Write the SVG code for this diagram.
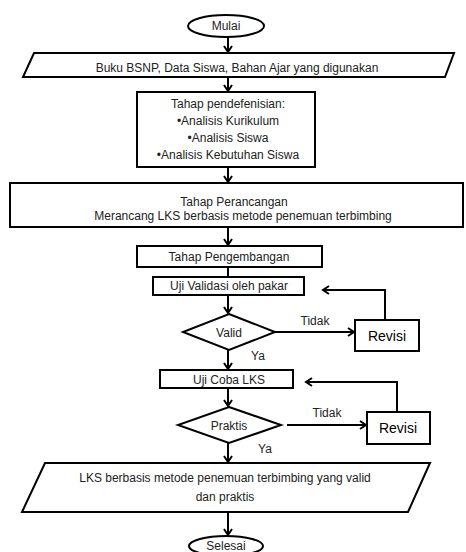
<svg xmlns="http://www.w3.org/2000/svg" width="466" height="552" viewBox="0 0 466 552">
<defs>
<marker id="ah" markerWidth="10" markerHeight="10" refX="8" refY="5" orient="auto" markerUnits="userSpaceOnUse">
<path d="M2,1 L8,5 L2,9" fill="none" stroke="#000" stroke-width="2"/>
</marker>
</defs>
<style>
.s{fill:#fff;stroke:#000;stroke-width:2}
.t{font-family:"Liberation Sans",Arial,sans-serif;font-size:12px;fill:#222;text-anchor:middle}
.r{font-family:"Liberation Sans",Arial,sans-serif;font-size:14px;fill:#000;text-anchor:middle}
.c{fill:none;stroke:#000;stroke-width:2}
</style>
<rect width="466" height="552" fill="#fff"/>
<g id="connectors">
<line class="c" x1="228" y1="37" x2="228" y2="52" marker-end="url(#ah)"/>
<line class="c" x1="228" y1="77" x2="228" y2="91" marker-end="url(#ah)"/>
<line class="c" x1="228" y1="167" x2="228" y2="182" marker-end="url(#ah)"/>
<line class="c" x1="228" y1="227" x2="228" y2="245" marker-end="url(#ah)"/>
<line class="c" x1="228" y1="267" x2="228" y2="277"/>
<line class="c" x1="228" y1="295" x2="228" y2="313" marker-end="url(#ah)"/>
<line class="c" x1="275" y1="332" x2="354" y2="332" marker-end="url(#ah)"/>
<polyline class="c" points="385,320 385,290 323,290" marker-end="url(#ah)"/>
<line class="c" x1="228" y1="350" x2="228" y2="369" marker-end="url(#ah)"/>
<line class="c" x1="228" y1="388" x2="228" y2="406" marker-end="url(#ah)"/>
<line class="c" x1="287" y1="425" x2="366" y2="425" marker-end="url(#ah)"/>
<polyline class="c" points="397,412 397,382 306,382" marker-end="url(#ah)"/>
<line class="c" x1="228" y1="443" x2="228" y2="462" marker-end="url(#ah)"/>
<line class="c" x1="228" y1="512" x2="228" y2="535" marker-end="url(#ah)"/>
<text class="t" x="315" y="325">Tidak</text>
<text class="t" x="258" y="360">Ya</text>
<text class="t" x="327" y="417">Tidak</text>
<text class="t" x="265" y="453">Ya</text>
</g>
<g id="mulai">
<ellipse class="s" cx="226" cy="26" rx="38" ry="11"/>
<text class="t" x="226" y="30">Mulai</text>
</g>
<g id="input">
<polygon class="s" points="34,53 454,53 445,77 23,77"/>
<text class="t" x="237" y="72">Buku BSNP, Data Siswa, Bahan Ajar yang digunakan</text>
</g>
<g id="pendefenisian">
<rect class="s" x="137" y="92" width="178" height="75"/>
<text class="t" x="228" y="108">Tahap pendefenisian:</text>
<text class="t" x="228" y="125">•Analisis Kurikulum</text>
<text class="t" x="228" y="142">•Analisis Siswa</text>
<text class="t" x="228" y="159">•Analisis Kebutuhan Siswa</text>
</g>
<g id="perancangan">
<rect class="s" x="10" y="183" width="453" height="44"/>
<text class="t" x="234" y="206">Tahap Perancangan</text>
<text class="t" x="243" y="220">Merancang LKS berbasis  metode penemuan terbimbing</text>
</g>
<g id="pengembangan">
<rect class="s" x="137" y="246" width="185" height="21"/>
<text class="t" x="229" y="261">Tahap Pengembangan</text>
</g>
<g id="validasi">
<rect class="s" x="153" y="277" width="151" height="18"/>
<text class="t" x="229" y="290">Uji Validasi oleh pakar</text>
</g>
<g id="valid">
<polygon class="s" points="229,314 275,332 229,350 183,332"/>
<text class="t" x="229" y="337">Valid</text>
</g>
<g id="revisi1">
<rect class="s" x="355" y="320" width="64" height="31"/>
<text class="r" x="387" y="341">Revisi</text>
</g>
<g id="ujicoba">
<rect class="s" x="160" y="370" width="133" height="18"/>
<text class="t" x="229" y="384">Uji Coba LKS</text>
</g>
<g id="praktis">
<polygon class="s" points="229,407 281,425 229,443 178,425"/>
<text class="t" x="229" y="430">Praktis</text>
</g>
<g id="revisi2">
<rect class="s" x="367" y="412" width="63" height="32"/>
<text class="r" x="398" y="433">Revisi</text>
</g>
<g id="output">
<polygon class="s" points="45,463 430,463 408,512 22,512"/>
<text class="t" x="225" y="482">LKS berbasis metode penemuan terbimbing yang valid</text>
<text class="t" x="225" y="501">dan praktis</text>
</g>
<g id="selesai">
<ellipse class="s" cx="226" cy="546" rx="37" ry="10"/>
<text class="t" x="226" y="550">Selesai</text>
</g>
</svg>
